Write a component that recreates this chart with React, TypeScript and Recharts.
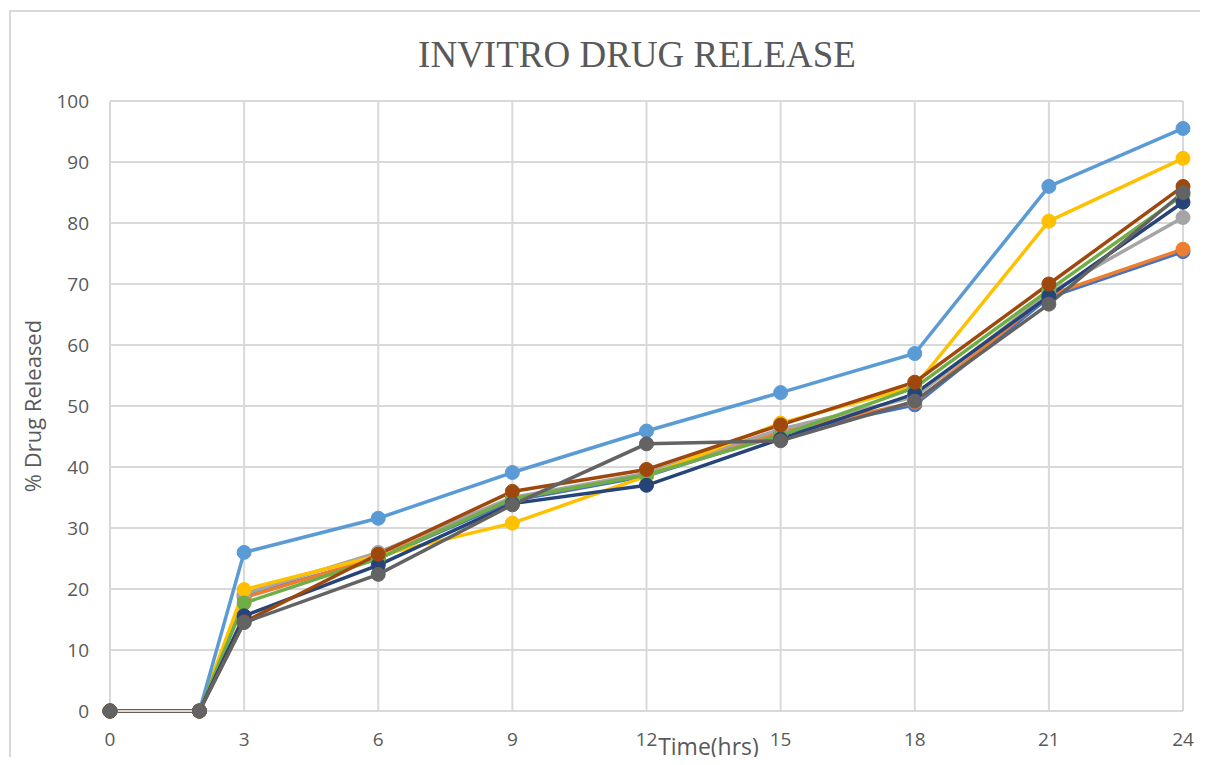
import { LineChart, Line, XAxis, YAxis, CartesianGrid } from 'recharts'

// sampling times (hrs) and the ticks shown on the axes
const TIME = [0, 2, 3, 6, 9, 12, 15, 18, 21, 24]
const X_TICKS = [0, 3, 6, 9, 12, 15, 18, 21, 24]
const Y_TICKS = [0, 10, 20, 30, 40, 50, 60, 70, 80, 90, 100]

// % drug released per formulation
const F1 = [0, 0, 18.9, 25.0, 34.5, 38.5, 45.5, 50.2, 67.8, 75.3]
const F2 = [0, 0, 18.6, 25.2, 34.8, 38.8, 45.8, 50.6, 68.2, 75.7]
const F3 = [0, 0, 19.2, 26.0, 35.0, 39.0, 46.2, 51.5, 68.5, 80.9]
const F4 = [0, 0, 19.9, 25.5, 30.8, 38.5, 47.2, 53.2, 80.3, 90.6]
const F5 = [0, 0, 26.0, 31.6, 39.1, 45.9, 52.2, 58.6, 86.0, 95.5]
const F6 = [0, 0, 17.7, 25.0, 34.8, 38.7, 45.2, 53.0, 69.0, 84.6]
const F7 = [0, 0, 15.6, 23.9, 34.0, 37.0, 44.6, 52.0, 68.0, 83.4]
const F8 = [0, 0, 14.6, 25.7, 36.0, 39.6, 46.9, 53.9, 70.0, 86.0]
const F9 = [0, 0, 14.5, 22.4, 33.8, 43.8, 44.3, 50.8, 66.7, 85.0]

const SERIES = [
  { key: 'F1', values: F1, color: '#4472C4' },
  { key: 'F2', values: F2, color: '#ED7D31' },
  { key: 'F3', values: F3, color: '#A5A5A5' },
  { key: 'F4', values: F4, color: '#FFC000' },
  { key: 'F5', values: F5, color: '#5B9BD5' },
  { key: 'F6', values: F6, color: '#70AD47' },
  { key: 'F7', values: F7, color: '#264478' },
  { key: 'F8', values: F8, color: '#9E480E' },
  { key: 'F9', values: F9, color: '#636363' },
]

const data = TIME.map((t, i) => {
  const row: Record<string, number> = { time: t }
  SERIES.forEach((s) => {
    row[s.key] = s.values[i]
  })
  return row
})

const sans = '"Open Sans", Lato, sans-serif'
const tickStyle = { fill: '#595959', fontSize: 19, fontFamily: sans }

export default function App() {
  return (
    <div style={{ position: 'relative', width: 1208, height: 765, margin: -8, overflow: 'hidden', background: '#fff' }}>
      <div
        style={{
          position: 'absolute',
          left: 9,
          top: 10,
          width: 1300,
          height: 900,
          border: '2px solid #d9d9d9',
        }}
      />
      <div
        style={{
          position: 'absolute',
          left: 337,
          top: 31,
          width: 600,
          textAlign: 'center',
          fontFamily: '"Liberation Serif", "Times New Roman", serif',
          fontSize: 37,
          color: '#595959',
          lineHeight: '48px',
        }}
      >
        INVITRO DRUG RELEASE
      </div>
      <div style={{ position: 'absolute', left: 0, top: 0 }}>
        <LineChart width={1208} height={765} data={data} margin={{ top: 101, right: 25, bottom: 0, left: 28 }}>
          <CartesianGrid stroke="#d9d9d9" strokeWidth={2} />
          <XAxis
            type="number"
            dataKey="time"
            domain={[0, 24]}
            ticks={X_TICKS}
            height={54}
            tick={tickStyle}
            tickLine={false}
            tickMargin={16}
            axisLine={{ stroke: '#d9d9d9', strokeWidth: 2 }}
            label={{
              value: 'Time(hrs)',
              position: 'insideBottom',
              offset: 10,
              dx: 62,
              style: { fill: '#595959', fontSize: 23, fontFamily: sans },
            }}
          />
          <YAxis
            domain={[0, 100]}
            ticks={Y_TICKS}
            width={82}
            tick={tickStyle}
            tickLine={false}
            tickMargin={15}
            axisLine={false}
            label={{
              value: '% Drug Released',
              angle: -90,
              position: 'insideLeft',
              offset: 5,
              style: { textAnchor: 'middle', fill: '#595959', fontSize: 22, fontFamily: sans },
            }}
          />
          {SERIES.map((s) => (
            <Line
              key={s.key}
              type="linear"
              dataKey={s.key}
              stroke={s.color}
              strokeWidth={3.5}
              dot={{ r: 7, fill: s.color, stroke: s.color, strokeWidth: 1 }}
              isAnimationActive={false}
            />
          ))}
        </LineChart>
      </div>
    </div>
  )
}
